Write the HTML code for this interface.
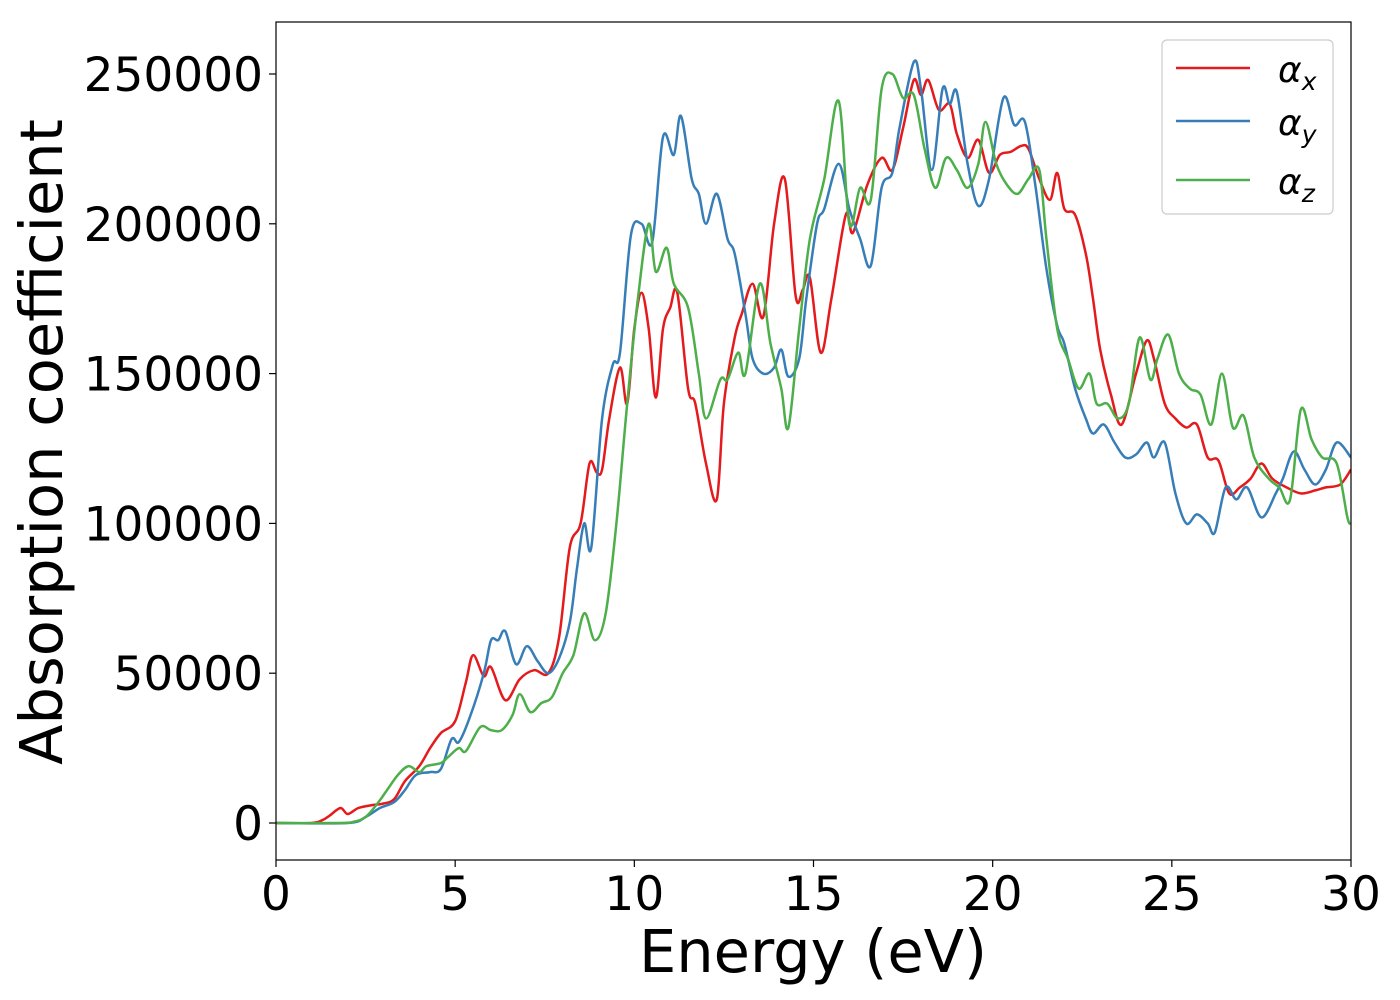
<!DOCTYPE html>
<html><head><meta charset="utf-8"><style>
html,body{margin:0;padding:0;background:#fff;}
svg{display:block;font-family:"DejaVu Sans","Liberation Sans",sans-serif;}
</style></head><body>
<svg id="chart" width="1400" height="1000" viewBox="0 0 1400 1000" xmlns="http://www.w3.org/2000/svg">
<defs><clipPath id="clip"><rect x="276" y="22" width="1075" height="838"/></clipPath></defs>
<rect x="0" y="0" width="1400" height="1000" fill="#fff"/>
<g id="series" clip-path="url(#clip)"></g>
<rect x="276" y="22" width="1075" height="838" fill="none" stroke="#000" stroke-width="1.2"/>
<g id="xticks"></g><g id="yticks"></g>
<text x="813" y="972" font-size="59" text-anchor="middle">Energy (eV)</text>
<text transform="translate(62,442) rotate(-90)" font-size="59" text-anchor="middle">Absorption coefficient</text>
<g>
<rect x="1162" y="40" width="171" height="174" rx="5" fill="#fff" stroke="#ccc" stroke-width="1.2"/>
<line x1="1176" y1="68" x2="1250" y2="68" stroke="#e41a1c" stroke-width="2.5"/>
<text x="1278" y="82" font-size="36" font-style="italic">α<tspan font-size="25" dy="8">x</tspan></text>
<line x1="1176" y1="121" x2="1250" y2="121" stroke="#377eb8" stroke-width="2.5"/>
<text x="1278" y="135" font-size="36" font-style="italic">α<tspan font-size="25" dy="8">y</tspan></text>
<line x1="1176" y1="180" x2="1250" y2="180" stroke="#4daf4a" stroke-width="2.5"/>
<text x="1278" y="194" font-size="36" font-style="italic">α<tspan font-size="25" dy="8">z</tspan></text>
</g>
</svg>
<script>
const xTicks=[0,5,10,15,20,25,30];
const yTicks=[0,50000,100000,150000,200000,250000];
const redE=[0,1,1.3,1.5,1.8,2.0,2.3,2.7,3.0,3.3,3.6,4.0,4.3,4.6,5.0,5.3,5.5,5.8,6.0,6.4,6.8,7.2,7.6,7.9,8.2,8.5,8.75,8.95,9.1,9.3,9.6,9.8,10.0,10.2,10.4,10.6,10.8,11.0,11.2,11.5,11.7,12.0,12.3,12.5,12.8,13.0,13.3,13.6,13.9,14.2,14.5,14.7,14.9,15.2,15.5,15.9,16.1,16.5,16.9,17.2,17.5,17.8,18.0,18.2,18.5,18.8,19.0,19.3,19.6,19.9,20.2,20.5,20.8,21.0,21.3,21.6,21.8,22.0,22.3,22.6,22.8,23.0,23.3,23.6,24.0,24.3,24.5,24.8,25.1,25.4,25.7,26.0,26.3,26.6,26.9,27.2,27.5,27.8,28.2,28.6,29.0,29.3,29.7,30];
const redV=[0,0,1,2.5,5,3,5,6,6.5,8,14,19,25,30,34,47,56,49,52,41,48,51,50,62,92,100,120,117,118,135,152,140,165,177,165,142,165,172,177,145,140,120,108,140,162,170,180,169,200,215,176,178,182,157,175,203,197,213,222,218,232,248,243,248,238,240,230,222,228,217,223,224,226,225,215,208,217,205,203,190,175,158,143,133,150,161,155,140,135,132,133,122,121,110,112,115,120,115,112,110,111,112,113,118];
const blueE=[0,2,2.5,2.9,3.3,3.6,3.9,4.3,4.6,4.9,5.1,5.4,5.8,6.0,6.2,6.4,6.7,7.0,7.3,7.6,7.9,8.2,8.4,8.6,8.8,9.1,9.4,9.6,9.9,10.2,10.5,10.8,11.1,11.3,11.6,11.8,12.0,12.3,12.6,12.8,13.1,13.3,13.6,13.9,14.1,14.3,14.6,14.8,15.1,15.3,15.7,16.0,16.3,16.6,16.9,17.2,17.4,17.8,18.0,18.3,18.6,18.8,19.0,19.3,19.6,19.9,20.3,20.6,20.9,21.2,21.5,21.8,22.0,22.3,22.6,22.8,23.1,23.4,23.7,24.0,24.3,24.5,24.8,25.1,25.4,25.7,26.0,26.2,26.5,26.8,27.1,27.5,27.9,28.1,28.4,28.7,29.0,29.3,29.6,30];
const blueV=[0,0,2,5,7,11,16,17,18,28,27,35,50,61,61,64,53,59,54,50,55,67,85,100,92,135,153,157,196,200,194,229,223,236,215,210,200,210,195,190,170,155,150,152,158,149,155,175,200,205,220,205,195,186,212,217,232,254,245,218,245,240,244,220,206,215,242,233,234,212,185,166,160,145,135,130,133,127,122,123,127,122,127,110,100,103,100,97,112,108,112,102,110,115,124,118,113,118,127,122];
const greenE=[0,1.8,2.2,2.5,2.8,3.1,3.4,3.7,4.0,4.2,4.6,4.8,5.1,5.3,5.7,6.0,6.3,6.6,6.8,7.1,7.4,7.7,8.0,8.3,8.6,8.9,9.2,9.5,9.8,10.1,10.4,10.6,10.9,11.1,11.5,11.8,12.0,12.4,12.6,12.9,13.1,13.5,13.8,14.1,14.3,14.6,14.9,15.3,15.7,16.0,16.3,16.6,16.9,17.2,17.5,17.8,18.1,18.4,18.7,19.0,19.3,19.6,19.8,20.1,20.4,20.7,21.0,21.3,21.5,21.8,22.1,22.4,22.7,22.9,23.2,23.5,23.8,24.1,24.4,24.6,24.9,25.2,25.5,25.8,26.1,26.4,26.7,27.0,27.3,27.7,28.0,28.3,28.6,28.9,29.2,29.6,29.9,30];
const greenV=[0,0,0.5,2,6,11,16,19,17,19,20,22,25,24,32,31,31,36,43,37,40,42,50,56,70,61,70,100,140,175,200,184,192,180,172,150,135,148,148,157,150,180,160,145,132,165,195,215,241,200,212,208,245,250,242,243,225,212,222,218,212,220,234,220,213,210,215,218,195,165,155,145,150,140,140,135,140,162,148,155,163,150,145,143,133,150,132,136,122,115,112,108,138,128,122,120,102,100];

const NS="http://www.w3.org/2000/svg";
const X0=276,X1=1351,Y0=823,Y250=74;
function xs(e){return X0+(X1-X0)*e/30;}
function ys(v){return Y0-(Y0-Y250)*v/250000;}
function pathFor(E,V){
  const p=E.map((e,i)=>[xs(e),ys(V[i]*1000)]);
  let d="M"+p[0][0].toFixed(1)+","+p[0][1].toFixed(1);
  for(let i=0;i<p.length-1;i++){
    const a=p[Math.max(i-1,0)],b=p[i],c=p[i+1],n=p[Math.min(i+2,p.length-1)];
    const c1=[b[0]+(c[0]-a[0])/6,b[1]+(c[1]-a[1])/6],c2=[c[0]-(n[0]-b[0])/6,c[1]-(n[1]-b[1])/6];
    d+="C"+c1.map(v=>v.toFixed(1))+" "+c2.map(v=>v.toFixed(1))+" "+c[0].toFixed(1)+","+c[1].toFixed(1);
  }
  return d;
}
const sg=document.getElementById("series");
[[redE,redV,"#e41a1c","series-alpha-x"],[blueE,blueV,"#377eb8","series-alpha-y"],[greenE,greenV,"#4daf4a","series-alpha-z"]].forEach(s=>{
  const el=document.createElementNS(NS,"path");
  el.setAttribute("d",pathFor(s[0],s[1]));
  el.setAttribute("fill","none");el.setAttribute("stroke",s[2]);el.setAttribute("stroke-width","2.5");
  
  
  sg.appendChild(el);
});
const xg=document.getElementById("xticks");
xTicks.forEach(t=>{
  const l=document.createElementNS(NS,"line");
  l.setAttribute("x1",xs(t));l.setAttribute("x2",xs(t));l.setAttribute("y1",860);l.setAttribute("y2",867);l.setAttribute("stroke","#000");l.setAttribute("stroke-width","1.2");
  
  
  xg.appendChild(l);
  const tx=document.createElementNS(NS,"text");
  tx.setAttribute("x",xs(t));tx.setAttribute("y",910);tx.setAttribute("font-size","47");tx.setAttribute("text-anchor","middle");
  tx.textContent=t;
  
  
  xg.appendChild(tx);
});
const yg=document.getElementById("yticks");
yTicks.forEach(t=>{
  const l=document.createElementNS(NS,"line");
  l.setAttribute("x1",269);l.setAttribute("x2",276);l.setAttribute("y1",ys(t));l.setAttribute("y2",ys(t));l.setAttribute("stroke","#000");l.setAttribute("stroke-width","1.2");
  
  
  yg.appendChild(l);
  const tx=document.createElementNS(NS,"text");
  tx.setAttribute("x",263);tx.setAttribute("y",ys(t)+17);tx.setAttribute("font-size","47");tx.setAttribute("text-anchor","end");
  tx.textContent=t;
  
  
  yg.appendChild(tx);
});
</script>
</body></html>
